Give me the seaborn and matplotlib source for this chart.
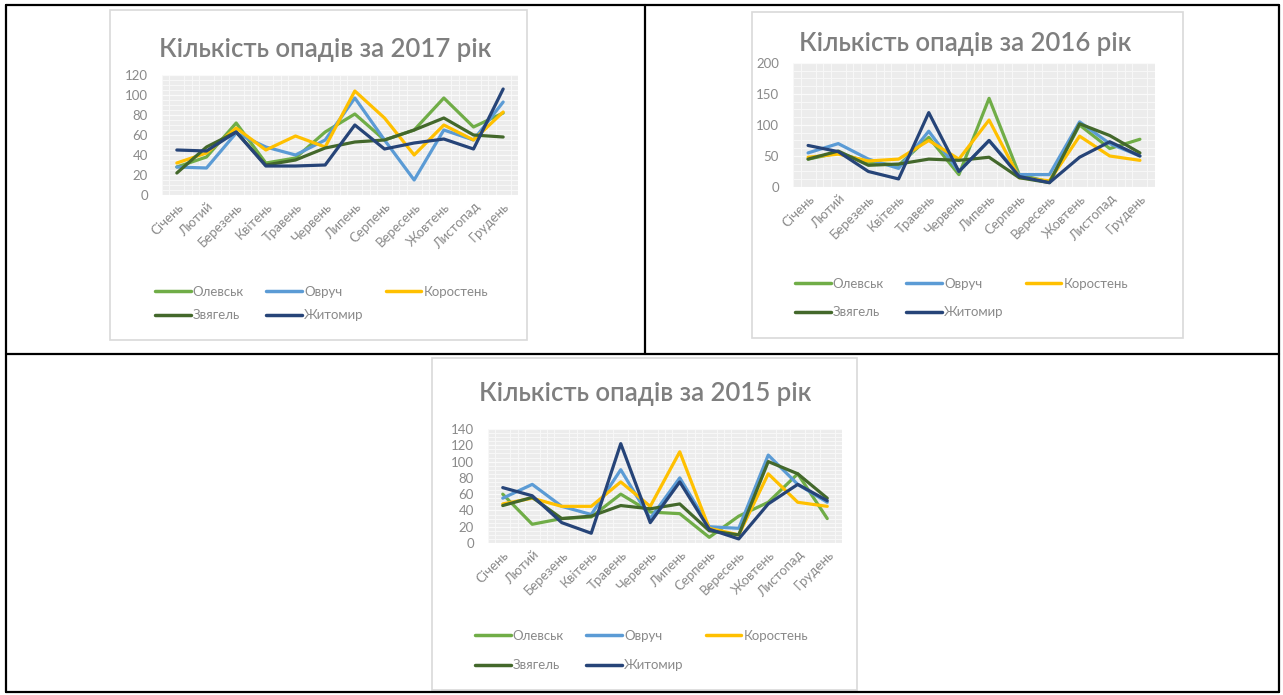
import matplotlib
matplotlib.use("Agg")
import matplotlib.pyplot as plt
import seaborn as sns
import pandas as pd
from matplotlib.lines import Line2D
from matplotlib.patches import Rectangle
from matplotlib.ticker import MultipleLocator

W, H = 1283, 695

MONTHS = ["Січень", "Лютий", "Березень", "Квітень", "Травень", "Червень",
          "Липень", "Серпень", "Вересень", "Жовтень", "Листопад", "Грудень"]
STATIONS = ["Олевськ", "Овруч", "Коростень", "Звягель", "Житомир"]
COLORS = ["#70AD47", "#5B9BD5", "#FFC000", "#43682B", "#264478"]

# 2017
OLEVSK_2017 = [28, 38, 72, 32, 37, 63, 81, 55, 65, 97, 68, 82]
OVRUCH_2017 = [28, 27, 62, 48, 40, 55, 97, 55, 15, 65, 55, 93]
KOROSTEN_2017 = [32, 42, 67, 45, 59, 48, 104, 77, 40, 70, 55, 83]
ZVIAHEL_2017 = [22, 48, 63, 30, 35, 47, 53, 55, 65, 77, 60, 58]
ZHYTOMYR_2017 = [45, 44, 63, 29, 29, 30, 70, 46, 52, 56, 46, 106]

# 2016
OLEVSK_2016 = [45, 55, 40, 35, 80, 20, 143, 20, 8, 100, 62, 77]
OVRUCH_2016 = [55, 70, 45, 30, 90, 25, 75, 20, 20, 105, 70, 50]
KOROSTEN_2016 = [48, 53, 42, 45, 75, 45, 108, 15, 10, 82, 50, 43]
ZVIAHEL_2016 = [45, 58, 35, 37, 45, 43, 48, 15, 7, 102, 83, 55]
ZHYTOMYR_2016 = [67, 57, 25, 13, 120, 25, 75, 17, 7, 48, 73, 50]

# 2015
OLEVSK_2015 = [60, 23, 30, 32, 60, 38, 36, 7, 33, 50, 85, 30]
OVRUCH_2015 = [55, 72, 45, 35, 90, 30, 80, 20, 18, 108, 72, 50]
KOROSTEN_2015 = [48, 55, 45, 45, 75, 45, 112, 18, 10, 85, 50, 45]
ZVIAHEL_2015 = [46, 56, 30, 33, 46, 42, 48, 15, 10, 100, 85, 55]
ZHYTOMYR_2015 = [68, 58, 25, 12, 122, 25, 75, 17, 5, 48, 72, 52]

YEARS = {
    "2017": [OLEVSK_2017, OVRUCH_2017, KOROSTEN_2017, ZVIAHEL_2017, ZHYTOMYR_2017],
    "2016": [OLEVSK_2016, OVRUCH_2016, KOROSTEN_2016, ZVIAHEL_2016, ZHYTOMYR_2016],
    "2015": [OLEVSK_2015, OVRUCH_2015, KOROSTEN_2015, ZVIAHEL_2015, ZHYTOMYR_2015],
}

sns.set_style("white")
plt.rcParams["font.family"] = ["Lato", "Open Sans", "DejaVu Sans"]

TEXT_GRAY = "#8a8a8a"


def fx(x):
    return x / W


def fy(y):
    return 1 - y / H


def make_frame(df_year):
    rows = []
    for name, vals in zip(STATIONS, df_year):
        for m, v in zip(MONTHS, vals):
            rows.append({"month": m, "value": v, "station": name})
    return pd.DataFrame(rows)


fig = plt.figure(figsize=(W / 100, H / 100), dpi=100)

# рамки таблиці
lw_tab = 1.6
for (x0, y0, x1, y1) in [(6, 5, 1279, 5), (6, 692, 1279, 692), (6, 5, 6, 692),
                         (1279, 5, 1279, 692), (645, 5, 645, 354), (6, 354, 1279, 354)]:
    fig.add_artist(Line2D([fx(x0), fx(x1)], [fy(y0), fy(y1)], color="black", lw=lw_tab))

charts = [
    # year, frame, plot box, ymax, ystep, title pos, legend (x, y), legend row gap
    ("2017", (110, 10, 527, 340), (162, 75, 518, 195), 120, 20, (325, 50), (155, 286), 0.85),
    ("2016", (752, 12, 1183, 338), (793, 63, 1155, 187), 200, 50, (965, 43), (795, 278), 1.25),
    ("2015", (432, 358, 857, 690), (488, 429, 842, 543), 140, 20, (645, 393), (475, 630), 1.3),
]

for year, frame, box, ymax, ystep, tpos, lpos, lgap in charts:
    fl, ft, fr, fb = frame
    fig.add_artist(Rectangle((fx(fl), fy(fb)), (fr - fl) / W, (fb - ft) / H,
                             transform=fig.transFigure, facecolor="white",
                             edgecolor="#d9d9d9", lw=1.2, zorder=0))

    l, t, r, b = box
    ax = fig.add_axes([fx(l), fy(b), (r - l) / W, (b - t) / H])
    ax.set_facecolor("#ececec")

    data = make_frame(YEARS[year])
    sns.lineplot(data=data, x="month", y="value", hue="station",
                 hue_order=STATIONS, palette=COLORS, sort=False,
                 linewidth=2.3, legend=False, ax=ax)

    ax.set_xlim(-0.5, 11.5)
    ax.set_ylim(0, ymax)
    ax.set_yticks(range(0, ymax + 1, ystep))
    ax.set_xticks(range(12))
    ax.set_xticklabels(MONTHS, rotation=45, ha="right", rotation_mode="anchor")
    ax.xaxis.set_minor_locator(MultipleLocator(0.25))
    ax.yaxis.set_minor_locator(MultipleLocator(ystep / 4))
    ax.grid(which="minor", color="#f8f8f8", lw=0.7)
    ax.grid(which="major", axis="y", color="#fafafa", lw=0.9)
    ax.tick_params(axis="both", which="both", length=0, colors=TEXT_GRAY, labelsize=9.5)
    ax.tick_params(axis="y", pad=10)
    ax.tick_params(axis="x", pad=4)
    ax.set_xlabel("")
    ax.set_ylabel("")
    for s in ax.spines.values():
        s.set_visible(False)

    fig.text(fx(tpos[0]), fy(tpos[1]), f"Кількість опадів за {year} рік",
             ha="center", va="center", fontsize=18.5, fontweight="semibold", color="#7f7f7f")

    order = [0, 3, 1, 4, 2]
    handles = [Line2D([], [], color=COLORS[i], lw=2.5) for i in order]
    labels = [STATIONS[i] for i in order]
    fig.legend(handles, labels, loc="upper left", bbox_to_anchor=(fx(lpos[0]), fy(lpos[1])),
               ncol=3, frameon=False, borderpad=0, borderaxespad=0, fontsize=9.5,
               handlelength=2.7, handletextpad=0.15, columnspacing=1.7,
               labelspacing=lgap, labelcolor=TEXT_GRAY)

fig.savefig("out.png", dpi=100)
